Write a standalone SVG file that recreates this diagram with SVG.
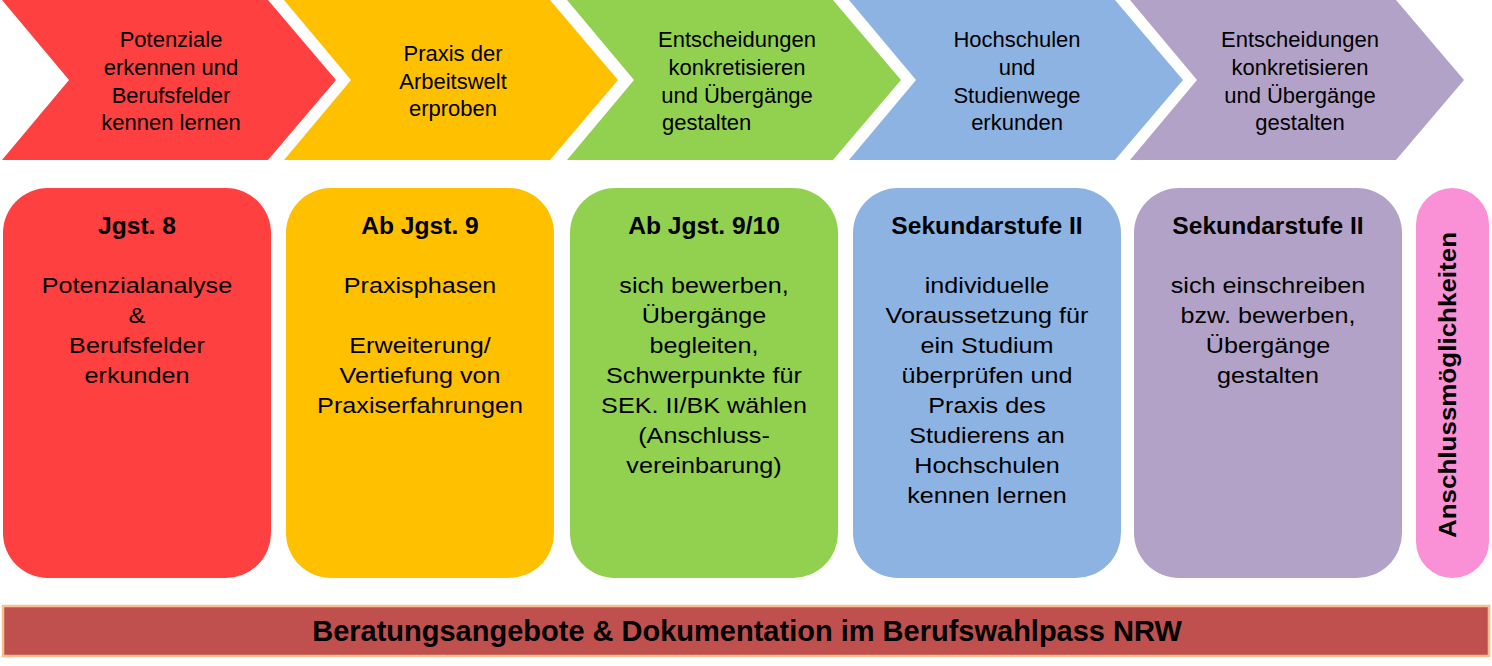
<svg xmlns="http://www.w3.org/2000/svg" width="1492" height="666" viewBox="0 0 1492 666">
<style>
text{font-family:"Liberation Sans",Arial,sans-serif;fill:#000}
.ct{font-size:22px;text-anchor:middle}
.bt{font-size:22.5px;text-anchor:middle}
.hd{font-size:23px;font-weight:bold;text-anchor:middle}
.red{fill:#FF4040}.yel{fill:#FFC000}.grn{fill:#92D050}.blu{fill:#8DB3E2}.pur{fill:#B3A2C7}.pnk{fill:#FA90D6}
</style>
<defs>
<polygon id="chev" points="0,0 266,0 334,80 266,160 0,160 67,80"/>
<rect id="box" x="0" y="0" width="268" height="390" rx="45" ry="45"/>
</defs>
<rect width="1492" height="666" fill="#fff"/>
<g id="connectors"/>

<g id="chevron1">
<use href="#chev" x="2" class="red"/>
<text class="ct" x="171" y="47">Potenziale</text>
<text class="ct" x="171" y="75">erkennen und</text>
<text class="ct" x="171" y="103">Berufsfelder</text>
<text class="ct" x="171" y="130">kennen lernen</text>
</g>
<g id="chevron2">
<use href="#chev" x="284" class="yel"/>
<text class="ct" x="453" y="61">Praxis der</text>
<text class="ct" x="453" y="89">Arbeitswelt</text>
<text class="ct" x="453" y="116">erproben</text>
</g>
<g id="chevron3">
<use href="#chev" x="567" class="grn"/>
<text class="ct" x="737" y="47">Entscheidungen</text>
<text class="ct" x="737" y="75">konkretisieren</text>
<text class="ct" x="737" y="103">und Übergänge</text>
<text x="662" y="130" style="font-size:22px">gestalten</text>
</g>
<g id="chevron4">
<use href="#chev" x="849" class="blu"/>
<text class="ct" x="1017" y="47">Hochschulen</text>
<text class="ct" x="1017" y="75">und</text>
<text class="ct" x="1017" y="103">Studienwege</text>
<text class="ct" x="1017" y="130">erkunden</text>
</g>
<g id="chevron5">
<use href="#chev" x="1130" class="pur"/>
<text class="ct" x="1300" y="47">Entscheidungen</text>
<text class="ct" x="1300" y="75">konkretisieren</text>
<text class="ct" x="1300" y="103">und Übergänge</text>
<text class="ct" x="1300" y="130">gestalten</text>
</g>

<g id="box1">
<use href="#box" x="3" y="188" class="red"/>
<text class="hd" transform="matrix(1.07 0 0 1 137 234)">Jgst. 8</text>
<g transform="matrix(1.12 0 0 1 137 0)">
<text class="bt" y="293">Potenzialanalyse</text>
<text class="bt" y="323">&amp;</text>
<text class="bt" y="353">Berufsfelder</text>
<text class="bt" y="383">erkunden</text>
</g>
</g>
<g id="box2">
<use href="#box" x="286" y="188" class="yel"/>
<text class="hd" transform="matrix(1.07 0 0 1 420 234)">Ab Jgst. 9</text>
<g transform="matrix(1.12 0 0 1 420 0)">
<text class="bt" y="293">Praxisphasen</text>
<text class="bt" y="353">Erweiterung/</text>
<text class="bt" y="383">Vertiefung von</text>
<text class="bt" y="413">Praxiserfahrungen</text>
</g>
</g>
<g id="box3">
<use href="#box" x="570" y="188" class="grn"/>
<text class="hd" transform="matrix(1.07 0 0 1 704 234)">Ab Jgst. 9/10</text>
<g transform="matrix(1.12 0 0 1 704 0)">
<text class="bt" y="293">sich bewerben,</text>
<text class="bt" y="323">Übergänge</text>
<text class="bt" y="353">begleiten,</text>
<text class="bt" y="383">Schwerpunkte für</text>
<text class="bt" y="413">SEK. II/BK wählen</text>
<text class="bt" y="443">(Anschluss-</text>
<text class="bt" y="473">vereinbarung)</text>
</g>
</g>
<g id="box4">
<use href="#box" x="853" y="188" class="blu"/>
<text class="hd" transform="matrix(1.07 0 0 1 987 234)">Sekundarstufe II</text>
<g transform="matrix(1.12 0 0 1 987 0)">
<text class="bt" y="293">individuelle</text>
<text class="bt" y="323">Voraussetzung für</text>
<text class="bt" y="353">ein Studium</text>
<text class="bt" y="383">überprüfen und</text>
<text class="bt" y="413">Praxis des</text>
<text class="bt" y="443">Studierens an</text>
<text class="bt" y="473">Hochschulen</text>
<text class="bt" y="503">kennen lernen</text>
</g>
</g>
<g id="box5">
<use href="#box" x="1134" y="188" class="pur"/>
<text class="hd" transform="matrix(1.07 0 0 1 1268 234)">Sekundarstufe II</text>
<g transform="matrix(1.12 0 0 1 1268 0)">
<text class="bt" y="293">sich einschreiben</text>
<text class="bt" y="323">bzw. bewerben,</text>
<text class="bt" y="353">Übergänge</text>
<text class="bt" y="383">gestalten</text>
</g>
</g>
<g id="box6">
<rect x="1416" y="188" width="73" height="390" rx="36.5" ry="36.5" class="pnk"/>
<text class="hd" transform="translate(1456 385) rotate(-90) scale(1.13 1)">Anschlussmöglichkeiten</text>
</g>

<g id="bar">
<rect x="3" y="606" width="1486" height="50" fill="#C0504D" stroke="#F9C08F" stroke-width="2.5"/>
<text x="747" y="641" text-anchor="middle" style="font-size:29px;font-weight:bold">Beratungsangebote &amp; Dokumentation im Berufswahlpass NRW</text>
</g>
</svg>
